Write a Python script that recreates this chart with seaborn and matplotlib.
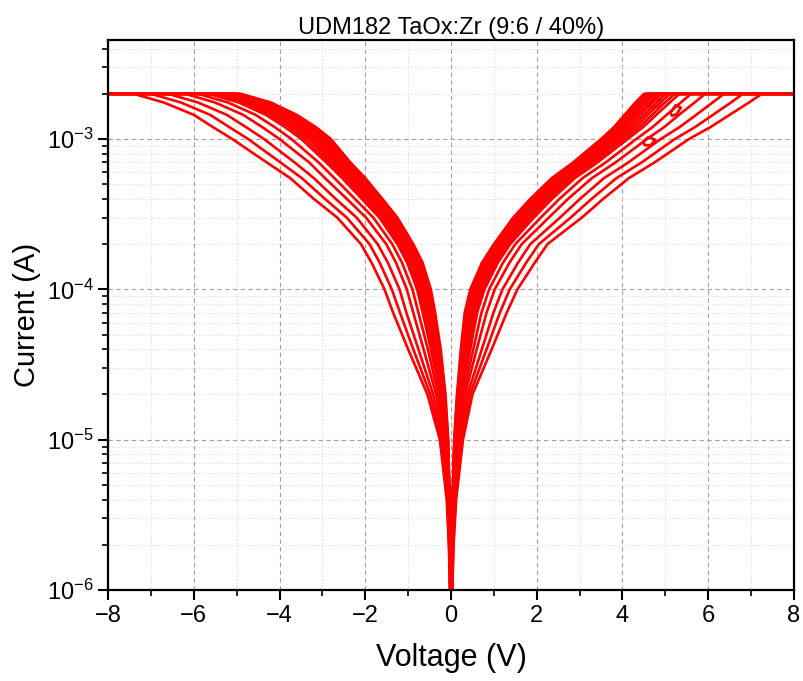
import numpy as np
import pandas as pd
import matplotlib
matplotlib.use("Agg")
import matplotlib.pyplot as plt
from matplotlib.ticker import LogLocator, MultipleLocator, NullFormatter
import seaborn as sns

current_levels = [5e-7, 1e-6, 2e-6, 4e-6, 1e-5, 2e-5, 4e-5, 7e-5, 1e-4, 1.5e-4,
                  2e-4, 3e-4, 4e-4, 5.5e-4, 7e-4, 1e-3, 1.2e-3, 1.45e-3, 1.75e-3, 2e-3]
compliance = 2e-3
v_end = 8.0

# |V| where each negative-bias sweep crosses the current levels
neg_sweeps = [
    [0.004, 0.009, 0.018, 0.032, 0.065, 0.130, 0.24, 0.37, 0.47, 0.66, 0.88, 1.25, 1.60, 2.00, 2.35, 2.80, 3.15, 3.60, 4.20, 4.90],
    [0.004, 0.0095, 0.0185, 0.034, 0.069, 0.139, 0.255, 0.39, 0.49, 0.685, 0.905, 1.28, 1.63, 2.035, 2.385, 2.845, 3.20, 3.65, 4.25, 4.95],
    [0.004, 0.010, 0.019, 0.035, 0.073, 0.147, 0.27, 0.41, 0.51, 0.71, 0.93, 1.31, 1.66, 2.07, 2.42, 2.89, 3.25, 3.70, 4.30, 5.00],
    [0.0045, 0.010, 0.020, 0.0365, 0.078, 0.158, 0.29, 0.435, 0.54, 0.74, 0.96, 1.345, 1.70, 2.115, 2.47, 2.95, 3.31, 3.76, 4.365, 5.065],
    [0.005, 0.010, 0.021, 0.038, 0.083, 0.168, 0.31, 0.46, 0.57, 0.77, 0.99, 1.38, 1.74, 2.16, 2.52, 3.01, 3.37, 3.82, 4.43, 5.13],
    [0.005, 0.0105, 0.022, 0.040, 0.0885, 0.180, 0.33, 0.49, 0.60, 0.805, 1.025, 1.42, 1.79, 2.215, 2.575, 3.08, 3.44, 3.89, 4.505, 5.205],
    [0.005, 0.011, 0.023, 0.042, 0.094, 0.193, 0.35, 0.52, 0.63, 0.84, 1.06, 1.46, 1.84, 2.27, 2.63, 3.15, 3.51, 3.96, 4.58, 5.28],
    [0.005, 0.012, 0.024, 0.0445, 0.101, 0.2075, 0.38, 0.555, 0.67, 0.88, 1.105, 1.51, 1.895, 2.335, 2.695, 3.23, 3.595, 4.045, 4.665, 5.365],
    [0.005, 0.013, 0.025, 0.047, 0.108, 0.222, 0.41, 0.59, 0.71, 0.92, 1.15, 1.56, 1.95, 2.40, 2.76, 3.31, 3.68, 4.13, 4.75, 5.45],
    [0.0055, 0.0135, 0.0265, 0.0495, 0.116, 0.239, 0.44, 0.625, 0.75, 0.97, 1.20, 1.615, 2.015, 2.47, 2.835, 3.40, 3.775, 4.225, 4.85, 5.55],
    [0.006, 0.014, 0.028, 0.052, 0.124, 0.256, 0.47, 0.66, 0.79, 1.02, 1.25, 1.67, 2.08, 2.54, 2.91, 3.49, 3.87, 4.32, 4.95, 5.65],
    [0.006, 0.015, 0.031, 0.059, 0.143, 0.298, 0.54, 0.76, 0.90, 1.14, 1.37, 1.81, 2.24, 2.72, 3.09, 3.72, 4.11, 4.56, 5.20, 5.90],
    [0.007, 0.017, 0.035, 0.067, 0.166, 0.348, 0.64, 0.88, 1.03, 1.28, 1.51, 1.98, 2.43, 2.94, 3.31, 4.00, 4.40, 4.85, 5.50, 6.20],
    [0.008, 0.020, 0.040, 0.078, 0.198, 0.416, 0.76, 1.04, 1.20, 1.47, 1.71, 2.20, 2.69, 3.20, 3.65, 4.36, 4.78, 5.23, 5.90, 6.60],
    [0.009, 0.022, 0.045, 0.089, 0.229, 0.483, 0.88, 1.19, 1.38, 1.66, 1.90, 2.43, 2.94, 3.48, 3.98, 4.73, 5.17, 5.62, 6.30, 7.00],
    [0.010, 0.025, 0.050, 0.100, 0.260, 0.550, 1.00, 1.35, 1.55, 1.85, 2.10, 2.65, 3.20, 3.75, 4.30, 5.10, 5.55, 6.00, 6.70, 7.40],
]

# V where each positive-bias sweep crosses the current levels
pos_sweeps = [
    [0.005, 0.011, 0.020, 0.036, 0.075, 0.140, 0.23, 0.32, 0.45, 0.72, 1.00, 1.45, 1.85, 2.35, 2.85, 3.50, 3.80, 4.05, 4.30, 4.50],
    [0.005, 0.0115, 0.021, 0.0375, 0.079, 0.147, 0.245, 0.34, 0.47, 0.745, 1.025, 1.48, 1.885, 2.385, 2.89, 3.54, 3.845, 4.10, 4.355, 4.555],
    [0.005, 0.012, 0.022, 0.039, 0.083, 0.154, 0.26, 0.36, 0.49, 0.77, 1.05, 1.51, 1.92, 2.42, 2.93, 3.58, 3.89, 4.15, 4.41, 4.61],
    [0.0055, 0.0125, 0.023, 0.0415, 0.088, 0.163, 0.275, 0.385, 0.52, 0.80, 1.08, 1.55, 1.96, 2.465, 2.975, 3.63, 3.945, 4.21, 4.475, 4.68],
    [0.006, 0.013, 0.024, 0.044, 0.093, 0.172, 0.29, 0.41, 0.55, 0.83, 1.11, 1.59, 2.00, 2.51, 3.02, 3.68, 4.00, 4.27, 4.54, 4.75],
    [0.006, 0.0135, 0.025, 0.0465, 0.0995, 0.183, 0.315, 0.44, 0.585, 0.865, 1.15, 1.64, 2.055, 2.565, 3.08, 3.745, 4.07, 4.345, 4.62, 4.83],
    [0.006, 0.014, 0.026, 0.049, 0.106, 0.194, 0.34, 0.47, 0.62, 0.90, 1.19, 1.69, 2.11, 2.62, 3.14, 3.81, 4.14, 4.42, 4.70, 4.91],
    [0.0065, 0.0145, 0.0275, 0.0515, 0.113, 0.2065, 0.365, 0.505, 0.655, 0.945, 1.235, 1.745, 2.165, 2.685, 3.205, 3.88, 4.22, 4.505, 4.79, 5.01],
    [0.007, 0.015, 0.029, 0.054, 0.120, 0.219, 0.39, 0.54, 0.69, 0.99, 1.28, 1.80, 2.22, 2.75, 3.27, 3.95, 4.30, 4.59, 4.88, 5.11],
    [0.007, 0.016, 0.0305, 0.0575, 0.1285, 0.2335, 0.42, 0.575, 0.735, 1.04, 1.33, 1.865, 2.29, 2.82, 3.345, 4.035, 4.39, 4.69, 4.99, 5.22],
    [0.007, 0.017, 0.032, 0.061, 0.137, 0.248, 0.45, 0.61, 0.78, 1.09, 1.38, 1.93, 2.36, 2.89, 3.42, 4.12, 4.48, 4.79, 5.10, 5.33],
    [0.008, 0.019, 0.036, 0.070, 0.157, 0.284, 0.52, 0.71, 0.89, 1.21, 1.50, 2.09, 2.53, 3.07, 3.61, 4.32, 4.70, 5.03, 5.36, 5.60],
    [0.009, 0.021, 0.041, 0.080, 0.182, 0.327, 0.60, 0.83, 1.02, 1.36, 1.65, 2.28, 2.73, 3.29, 3.84, 4.57, 4.97, 5.32, 5.68, 5.93],
    [0.010, 0.024, 0.047, 0.093, 0.214, 0.385, 0.72, 0.99, 1.20, 1.56, 1.85, 2.54, 3.01, 3.57, 4.14, 4.89, 5.33, 5.72, 6.10, 6.37],
    [0.011, 0.027, 0.054, 0.107, 0.247, 0.442, 0.83, 1.14, 1.37, 1.75, 2.05, 2.79, 3.28, 3.86, 4.45, 5.22, 5.69, 6.11, 6.53, 6.81],
    [0.012, 0.030, 0.060, 0.120, 0.280, 0.500, 0.95, 1.30, 1.55, 1.95, 2.25, 3.05, 3.55, 4.15, 4.75, 5.55, 6.05, 6.50, 6.95, 7.25],
]

# small noisy loops seen near compliance on the positive side
loop_V = [[4.60, 4.78, 4.92, 4.80, 4.66, 4.60],
          [5.12, 5.24, 5.36, 5.26, 5.15, 5.12],
          [4.48, 4.60, 4.76, 4.66, 4.52, 4.48]]
loop_I = [[1.70e-3, 1.86e-3, 1.78e-3, 1.64e-3, 1.62e-3, 1.70e-3],
          [1.50e-3, 1.68e-3, 1.62e-3, 1.46e-3, 1.43e-3, 1.50e-3],
          [9.6e-4, 1.03e-3, 9.9e-4, 9.1e-4, 9.1e-4, 9.6e-4]]

title = "UDM182 TaOx:Zr (9:6 / 40%)"
xlabel = "Voltage (V)"
ylabel = "Current (A)"

# ---- build long-format table ----
rows = []
cid = 0
for sign, sweeps in ((-1, neg_sweeps), (1, pos_sweeps)):
    for sw in sweeps:
        for v, i in zip(sw, current_levels):
            rows.append((cid, sign * v, i))
        rows.append((cid, sign * v_end, compliance))
        cid += 1
for lv, li in zip(loop_V, loop_I):
    for v, i in zip(lv, li):
        rows.append((cid, v, i))
    cid += 1
df = pd.DataFrame(rows, columns=["curve", "V", "I"])

sns.set_style("ticks")
plt.rcParams["font.family"] = ["Liberation Sans", "DejaVu Sans"]
plt.rcParams["mathtext.fontset"] = "custom"
plt.rcParams["mathtext.rm"] = "Liberation Sans"
plt.rcParams["mathtext.it"] = "Liberation Sans:italic"
for k in ("text.color", "axes.labelcolor", "xtick.color", "ytick.color"):
    plt.rcParams[k] = "black"

fig = plt.figure(figsize=(8.04, 6.81), dpi=100)
ax = fig.add_axes([108 / 804, 1 - 590 / 681, (794 - 108) / 804, (590 - 40) / 681])

sns.lineplot(data=df, x="V", y="I", units="curve", estimator=None, sort=False,
             color="#ff0000", lw=1.9, ax=ax, legend=False)

ax.set_yscale("log")
ax.set_xlim(-8, 8)
ax.set_ylim(1e-6, 4.56e-3)

ax.xaxis.set_major_locator(MultipleLocator(2))
ax.xaxis.set_minor_locator(MultipleLocator(1))
ax.yaxis.set_major_locator(LogLocator(base=10, numticks=10))
ax.yaxis.set_minor_locator(LogLocator(base=10, subs=np.arange(2, 10), numticks=20))
ax.yaxis.set_minor_formatter(NullFormatter())

ax.grid(which="major", color="#a0a0a0", linestyle=(0, (4, 3)), lw=0.8)
ax.grid(which="minor", color="#d8d8d8", linestyle=(0, (1, 2)), lw=0.8)
ax.set_axisbelow(True)

for s in ax.spines.values():
    s.set_linewidth(1.6)
    s.set_color("black")
ax.tick_params(which="major", direction="out", length=7, width=1.5, labelsize=17,
               top=False, right=False)
ax.tick_params(which="minor", direction="out", length=4, width=1.2,
               top=False, right=False)

ax.set_xlabel(xlabel, fontsize=22, labelpad=12)
ax.set_ylabel(ylabel, fontsize=21, labelpad=4)
ax.set_title(title, fontsize=17, pad=4)

fig.savefig("out.png", dpi=100)
